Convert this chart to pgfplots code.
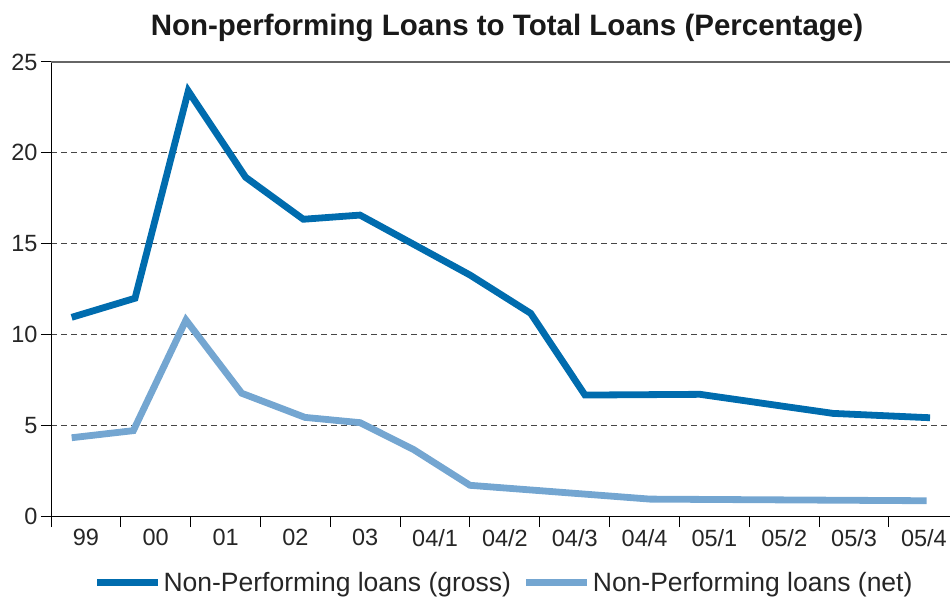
\documentclass[border=0pt]{standalone}
\usepackage{pgfplots}
\pgfplotsset{compat=1.18}
\usepackage{fontspec}
\setmainfont{Liberation Sans}
\definecolor{gross}{RGB}{0,108,174}
\definecolor{net}{RGB}{116,166,209}
\definecolor{gridc}{RGB}{70,70,70}
\begin{document}
\begin{tikzpicture}
\path[use as bounding box] (0pt,0pt) rectangle (950pt,597pt);
\node[anchor=base, font=\fontsize{29.5}{30}\selectfont\bfseries, text=black!90] at (507pt,561pt) {Non-performing Loans to Total Loans (Percentage)};
\begin{axis}[
  at={(51pt,81pt)}, anchor=south west,
  scale only axis, width=899pt, height=454pt,
  xmin=0, xmax=12.874, ymin=0, ymax=25,
  axis x line*=bottom, axis y line*=left,
  axis line style={black, line width=1pt},
  tick align=outside,
  major tick length=10pt, minor tick length=11pt,
  tick style={black, line width=1pt},
  xtick={0.5,1.5,...,12.5},
  xticklabels={99,00,01,02,03,04/1,04/2,04/3,04/4,05/1,05/2,05/3,05/4},
  major x tick style={draw=none},
  minor xtick={0,1,...,12},
  ytick={0,5,10,15,20,25},
  yticklabels={0,5,10,15,20,25},
  ymajorgrids,
  grid style={gridc, line width=0.9pt, dash pattern=on 6pt off 4pt},
  tick label style={font=\fontsize{23.5}{24}\selectfont, text=black!85},
  legend columns=2,
  legend style={at={(0.504,-0.1465)}, anchor=center, draw=none, fill=none,
    font=\fontsize{26.5}{27}\selectfont, text=black!85,
    /tikz/every even column/.append style={column sep=10pt}},
  legend image code/.code={\draw[#1] (0pt,0pt) -- (61pt,0pt);},
]
\addplot[gross, line width=6.8pt, line join=miter] coordinates {
  (0.296,10.94) (1.203,11.99) (1.966,23.40) (2.788,18.65) (3.613,16.34)
  (4.425,16.57) (6.000,13.27) (6.869,11.16) (7.647,6.66) (9.294,6.70)
  (11.199,5.65) (12.588,5.41)
};
\addlegendentry{Non-Performing loans (gross)}
\addplot[net, line width=6.8pt, line join=miter] coordinates {
  (0.296,4.31) (1.179,4.70) (1.933,10.79) (2.731,6.76) (3.637,5.43)
  (4.425,5.14) (5.188,3.67) (6.000,1.69) (8.578,0.93) (12.540,0.84)
};
\addlegendentry{Non-Performing loans (net)}
\draw[gray!80!black, line width=1.3pt] (axis cs:0,25) -- (axis cs:12.874,25);
\end{axis}
\end{tikzpicture}
\end{document}
